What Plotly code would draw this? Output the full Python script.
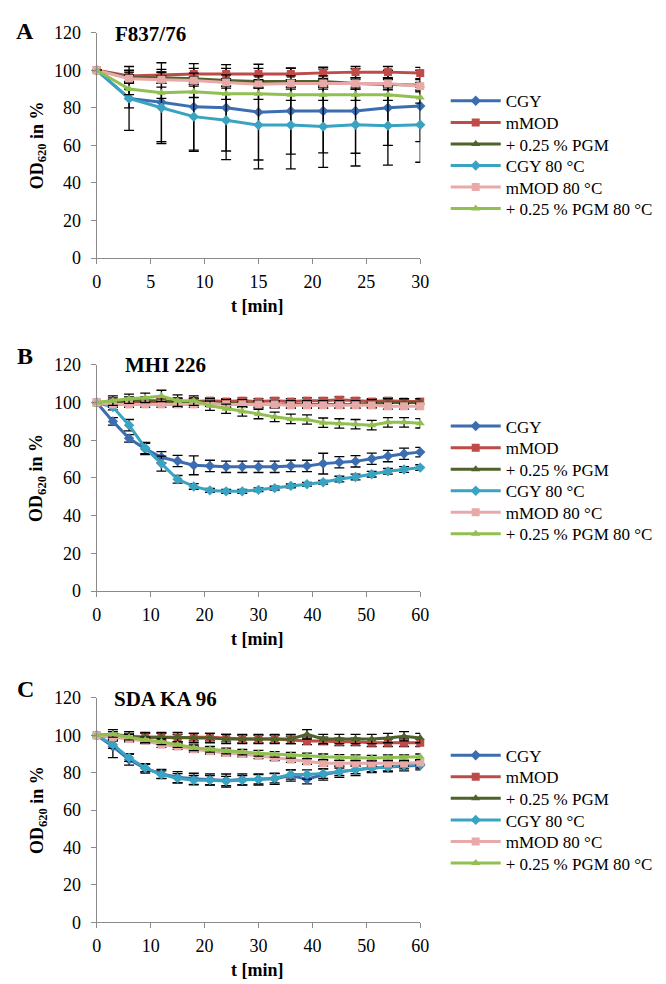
import plotly.graph_objects as go

# ---------------- data ----------------
series_names = ["CGY", "mMOD", "+ 0.25 % PGM", "CGY 80 °C", "mMOD 80 °C", "+ 0.25 % PGM 80 °C"]

t_A = [0, 3, 6, 9, 12, 15, 18, 21, 24, 27, 30]
t_BC = [0, 3, 6, 9, 12, 15, 18, 21, 24, 27, 30, 33, 36, 39, 42, 45, 48, 51, 54, 57, 60]

# Panel A  (F837/76)
a_cgy = [100, 85, 83, 80.5, 80, 77.7, 78.3, 78.3, 78.3, 80, 81]
a_cgy_err = [0, 5, 21, 23, 23, 25.5, 23, 22.3, 22.5, 20, 19]
a_mmod = [100, 97, 97.5, 98, 98, 98, 98, 98.6, 99, 99, 98.5]
a_mmod_err = [0, 3, 3, 3, 3, 3, 3, 3, 3, 3, 3]
a_pgm = [100, 96, 96, 95.5, 94.5, 94, 94, 94, 93, 92.5, 92]
a_pgm_err = [0, 3, 3, 3, 3, 3, 3, 3, 3, 3, 3]
a_cgy80 = [100, 85, 80, 75.3, 73.4, 70.8, 70.8, 70, 71, 70.5, 71]
a_cgy80_err = [0, 17, 19, 18.5, 21, 23.3, 23.3, 21.7, 22, 21, 20]
a_mmod80 = [100, 95.5, 95, 94.5, 93.5, 92.5, 93, 93, 93, 93, 91.5]
a_mmod80_err = [0, 2, 2, 2, 2, 2, 2, 2, 2, 2, 2]
a_pgm80 = [100, 90, 88, 88.5, 87.5, 87.5, 87, 87, 87, 87, 85.5]
a_pgm80_err = [0, 3, 3, 3, 3, 3, 3, 3, 3, 3, 3]

# Panel B  (MHI 226)
b_cgy = [100, 90, 81, 75.4, 71, 69, 66.7, 66.4, 65.9, 65.9, 65.9, 65.9, 66.4, 66.4, 67.6, 68.3, 68.8, 70.2, 71.6, 72.8, 73.7]
b_cgy_err = [0, 2, 2, 3, 3, 3, 5, 3, 3, 3, 3, 3, 3, 3, 5.5, 3, 3, 3, 3, 3, 2.5]
b_mmod = [100, 100, 100, 100, 100.5, 100.5, 100.5, 101, 100.5, 101, 100.5, 101, 100.5, 101, 101, 101.5, 101, 100.5, 101, 100.5, 100.5]
b_mmod_err = [0] + [1.5] * 20
b_pgm = [100, 100.5, 101, 101, 101, 100.5, 100.5, 100, 99.5, 99.5, 99, 99, 99, 99, 99, 99, 99, 99.5, 100, 100, 100]
b_pgm_err = [0] + [2] * 20
b_cgy80 = [100, 97.6, 88, 75.9, 67.6, 59.3, 55.5, 53.4, 52.9, 52.9, 53.7, 54.6, 55.8, 56.7, 57.7, 59.4, 60.5, 62, 63.5, 64.5, 65.5]
b_cgy80_err = [0, 1.5, 3, 3, 4, 2, 1.5, 1, 1, 1, 1, 1, 1, 1, 1, 1.5, 1.5, 1.5, 1.5, 1.5, 1.5]
b_mmod80 = [100, 99, 99, 99, 99, 99, 99, 99.5, 99, 99, 99, 99, 98.5, 98.5, 98.5, 98.5, 98.5, 98.5, 98, 98, 98]
b_mmod80_err = [0] + [1.5] * 20
b_pgm80 = [100, 101, 102, 102.5, 103.5, 101, 101, 98.3, 96.7, 95.3, 93.9, 92.4, 91.3, 91, 89.3, 88.9, 88.5, 88, 89.5, 89.5, 89]
b_pgm80_err = [0, 2.5, 2.5, 2.5, 3, 3, 2.5, 2.5, 2.5, 2.5, 2.5, 2.5, 2.5, 2.5, 2.5, 2.5, 2.5, 2.5, 2.5, 2.5, 2.5]

# Panel C  (SDA KA 96)
c_cgy = [100, 94, 87, 82.3, 79.3, 77.6, 76.7, 76.4, 75.8, 76.4, 76.4, 76.7, 78.5, 76.5, 79, 80.5, 81.5, 82.5, 83, 83.5, 84]
c_cgy_err = [0, 6, 3, 2.5, 2.5, 3, 3, 3, 3.5, 3, 3, 3, 3, 2.5, 3, 3, 3, 2.5, 2.5, 2.5, 2.5]
c_mmod = [100, 99, 99, 99, 99, 98.5, 99, 99, 98.5, 98, 98, 98, 97.5, 97, 97, 96.5, 96.5, 96, 96, 96, 96]
c_mmod_err = [0] + [2] * 20
c_pgm = [100, 100.5, 99.5, 99, 99, 99, 98.5, 98.5, 98, 98, 98, 98, 98, 100.5, 98, 98, 98, 98, 98.5, 99.5, 98.5]
c_pgm_err = [0] + [2.5] * 20
c_cgy80 = [100, 95, 88, 82.5, 79, 77, 76, 76, 75.5, 76, 76.5, 77, 79, 79, 79.5, 80.5, 81.5, 82.5, 83, 84, 84.5]
c_cgy80_err = [0, 2, 2, 2, 2, 2.5, 2.5, 2.5, 2.5, 2.5, 2.5, 2.5, 2.5, 2.5, 2.5, 2, 2, 2, 2, 2, 2]
c_mmod80 = [100, 99, 98, 97, 95, 94, 92.5, 91.5, 90.5, 90, 89, 88, 87, 86, 85, 85, 85, 85, 85, 85, 85.5]
c_mmod80_err = [0] + [1.5] * 20
c_pgm80 = [100, 100.5, 99, 97.5, 96.5, 95, 93.3, 92.5, 91.6, 91, 90.4, 89.8, 89.3, 89, 88.5, 88.1, 88, 87.8, 88, 88, 88.5]
c_pgm80_err = [0] + [1.5] * 20

panel_titles = ["F837/76", "MHI 226", "SDA KA 96"]
panel_letters = ["A", "B", "C"]
y_ticks = [0, 20, 40, 60, 80, 100, 120]

# ---------------- style ----------------
colors = ["#3B6DB0", "#BE4B48", "#4F6228", "#3AA3C2", "#E8AAA8", "#92C050"]
symbols = ["diamond", "square", "triangle-up", "diamond", "square", "triangle-up"]
SERIF = "Liberation Serif, Times New Roman, serif"
W, H = 666, 984

panels = [
    dict(t=t_A, vals=[a_cgy, a_mmod, a_pgm, a_cgy80, a_mmod80, a_pgm80],
         errs=[a_cgy_err, a_mmod_err, a_pgm_err, a_cgy80_err, a_mmod80_err, a_pgm80_err],
         xmax=30, dtick=5, top=15, bottom=245, leg0=85, letter_y=13, title_y=16, xtitle_y=294),
    dict(t=t_BC, vals=[b_cgy, b_mmod, b_pgm, b_cgy80, b_mmod80, b_pgm80],
         errs=[b_cgy_err, b_mmod_err, b_pgm_err, b_cgy80_err, b_mmod80_err, b_pgm80_err],
         xmax=60, dtick=10, top=354, bottom=585, leg0=417, letter_y=345, title_y=354, xtitle_y=634),
    dict(t=t_BC, vals=[c_cgy, c_mmod, c_pgm, c_cgy80, c_mmod80, c_pgm80],
         errs=[c_cgy_err, c_mmod_err, c_pgm_err, c_cgy80_err, c_mmod80_err, c_pgm80_err],
         xmax=60, dtick=10, top=694, bottom=923, leg0=753, letter_y=685, title_y=695, xtitle_y=972),
]
title_x = [140, 156, 156]

fig = go.Figure()
layout = dict(width=W, height=H, margin=dict(l=0, r=0, t=0, b=0),
              paper_bgcolor="white", plot_bgcolor="white", showlegend=True,
              font=dict(family=SERIF, color="black"), annotations=[])

x0, x1 = 85.5 / W, 416 / W
n = 0
for i, p in enumerate(panels):
    k = "" if i == 0 else str(i + 1)
    for j in range(6):
        n += 1
        leg = "legend" if n == 1 else "legend%d" % n
        fig.add_trace(go.Scatter(
            x=p["t"], y=p["vals"][j], name=series_names[j],
            mode="lines+markers",
            line=dict(color=colors[j], width=3),
            marker=dict(symbol=symbols[j], size=8, color=colors[j]),
            error_y=dict(type="data", array=p["errs"][j], color="black", thickness=1.3, width=5),
            xaxis="x" + k, yaxis="y" + k, legend=leg, cliponaxis=False))
        layout[leg] = dict(x=442 / W, y=1 - (p["leg0"] + 22 * j) / H, xanchor="left", yanchor="middle",
                           bgcolor="rgba(0,0,0,0)", font=dict(family=SERIF, size=17, color="black"),
                           itemwidth=50)
    ydom = [1 - p["bottom"] / H, 1 - p["top"] / H]
    axcommon = dict(showline=True, linecolor="#8A8A8A", linewidth=1, ticks="outside",
                    ticklen=5, tickcolor="#8A8A8A", showgrid=False, zeroline=False,
                    tickfont=dict(family=SERIF, size=18, color="black"))
    layout["xaxis" + k] = dict(domain=[x0, x1], range=[0, p["xmax"]], tick0=0, dtick=p["dtick"],
                               anchor="y" + k, ticklabelstandoff=2, **axcommon)
    layout["yaxis" + k] = dict(domain=ydom, range=[0, 120], tickvals=y_ticks,
                               anchor="x" + k, ticklabelstandoff=6, **axcommon)
    ymid = (p["top"] + p["bottom"]) / 2
    layout["annotations"] += [
        dict(text="<b>OD<sub>620</sub> in %</b>", textangle=-90, x=25.5 / W, y=1 - ymid / H,
             xanchor="center", yanchor="middle",
             xref="paper", yref="paper", showarrow=False, font=dict(family=SERIF, size=18)),
        dict(text="<b>t [min]</b>", x=250 / W, y=1 - p["xtitle_y"] / H, xanchor="center", yanchor="middle",
             xref="paper", yref="paper", showarrow=False, font=dict(family=SERIF, size=18)),
        dict(text="<b>" + panel_letters[i] + "</b>", x=12.5 / W, y=1 - p["letter_y"] / H,
             xanchor="center", yanchor="middle",
             xref="paper", yref="paper", showarrow=False, font=dict(family=SERIF, size=24)),
        dict(text="<b>" + panel_titles[i] + "</b>", x=title_x[i] / W, y=1 - p["title_y"] / H,
             xanchor="center", yanchor="middle",
             xref="paper", yref="paper", showarrow=False, font=dict(family=SERIF, size=21)),
    ]

fig.update_layout(**layout)
fig.write_html("out.html")
